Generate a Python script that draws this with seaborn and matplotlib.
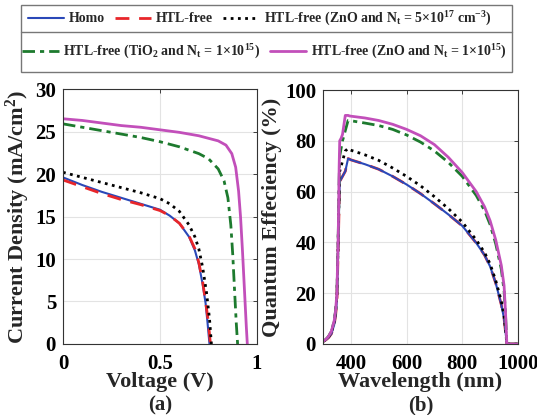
import numpy as np
import pandas as pd
import seaborn as sns
import matplotlib
matplotlib.use("Agg")
import matplotlib.pyplot as plt
from matplotlib.patches import Rectangle
from matplotlib.lines import Line2D

# ---------------- data ----------------
series_names = ["Homo", "HTL-free", "HTL-free (ZnO and N$_\\mathregular{t}$ = 5\u00d710$^{\\mathregular{17}}$ cm$^{\\mathregular{-3}}$)",
                "HTL-free (TiO$_\\mathregular{2}$ and N$_\\mathregular{t}$ = 1\u00d710$^{\\mathregular{15}}$)",
                "HTL-free (ZnO and N$_\\mathregular{t}$ = 1\u00d710$^{\\mathregular{15}}$)"]

# J-V (panel a)
V_homo = [0, 0.1, 0.2, 0.3, 0.4, 0.5, 0.55, 0.6, 0.65, 0.68, 0.7, 0.72, 0.735, 0.745, 0.755]
J_homo = [19.6, 18.7, 17.9, 17.2, 16.5, 15.8, 15.1, 14.2, 12.6, 11.0, 9.4, 7.0, 4.8, 2.5, 0]
V_htl = [0, 0.1, 0.2, 0.3, 0.4, 0.5, 0.55, 0.6, 0.65, 0.68, 0.7, 0.72, 0.735, 0.748, 0.76]
J_htl = [19.3, 18.5, 17.7, 17.0, 16.4, 15.7, 15.1, 14.2, 12.7, 11.2, 9.6, 7.3, 5.0, 2.8, 0]
V_zno17 = [0, 0.1, 0.2, 0.3, 0.4, 0.5, 0.55, 0.6, 0.65, 0.68, 0.7, 0.72, 0.74, 0.755, 0.765]
J_zno17 = [20.2, 19.6, 19.0, 18.4, 17.8, 17.1, 16.5, 15.6, 14.0, 12.6, 11.2, 9.0, 6.0, 3.0, 0]
V_tio2 = [0, 0.1, 0.2, 0.3, 0.4, 0.5, 0.6, 0.7, 0.75, 0.8, 0.83, 0.85, 0.865, 0.875, 0.885, 0.893, 0.9]
J_tio2 = [25.9, 25.5, 25.1, 24.7, 24.3, 23.8, 23.2, 22.4, 21.8, 20.6, 19.2, 17.2, 14.0, 10.5, 6.0, 2.5, 0]
V_zno15 = [0, 0.1, 0.2, 0.3, 0.4, 0.5, 0.6, 0.7, 0.75, 0.8, 0.84, 0.87, 0.89, 0.905, 0.915, 0.925, 0.935, 0.945, 0.95]
J_zno15 = [26.5, 26.3, 26.0, 25.7, 25.5, 25.2, 24.9, 24.5, 24.2, 23.9, 23.4, 22.4, 20.8, 18.0, 15.0, 11.0, 6.5, 2.0, 0]

# QE (panel b)
wl = [300, 310, 320, 330, 340, 345, 350, 355, 358, 360, 365, 370, 380, 390, 395, 400, 450, 500, 550,
      600, 650, 700, 750, 800, 850, 880, 900, 920, 940, 950, 955, 960, 1000]
qe_homo = [1, 1.6, 2.5, 4, 7.5, 11, 17, 40, 55, 64, 65, 66, 68, 73, 72.8, 72.5, 70.8, 68.8, 66,
           62.8, 59.2, 55.2, 51, 46.5, 39.8, 35, 30.5, 24, 15.5, 10, 5, 0, 0]
qe_htl = [1, 1.6, 2.5, 4, 7.5, 11, 17, 40, 55, 64, 65, 66, 68, 73, 72.8, 72.5, 70.8, 68.8, 66,
          62.8, 59.2, 55.2, 51, 46.5, 39.8, 35, 30.5, 24, 15.5, 10, 5, 0, 0]
qe_zno17 = [1, 1.7, 2.8, 4.6, 8.5, 12.5, 19, 44, 60, 68, 70, 72, 76, 77, 76.5, 76.3, 74.5, 72.3, 69.3,
            66, 62.3, 58, 53.3, 48, 41, 36, 31.5, 25, 17, 11, 6, 0, 0]
qe_tio2 = [1, 1.8, 3, 5, 9, 13, 20, 45, 65, 74, 77, 80, 84, 88, 88, 87.9, 87, 86, 84.5,
           82.3, 79.5, 76, 71.5, 66, 58.5, 52.5, 47, 39.5, 29.5, 21, 12, 0, 0]
qe_zno15 = [1, 1.8, 3, 5, 9, 13, 20, 45, 70, 80, 81, 82.5, 90, 90, 89.8, 89.7, 89, 88, 86.5,
            84.5, 82, 78.5, 73.5, 67.5, 60, 54, 48.5, 41, 31, 23, 13, 0, 0]

colors = ["#2a48b8", "#e8262a", "#000000", "#1d7a2e", "#c24fba"]
styles = ["-", (0, (5, 3.5)), (0, (1, 1.6)), (0, (4.5, 1.8, 1.5, 1.8)), "-"]
widths = [1.5, 2.0, 2.0, 2.0, 2.0]

# ---------------- style ----------------
sns.set_theme(style="white")
plt.rcParams["font.family"] = ["Liberation Serif", "DejaVu Serif"]
plt.rcParams["font.weight"] = "bold"
plt.rcParams["axes.labelweight"] = "bold"
plt.rcParams["mathtext.fontset"] = "custom"
plt.rcParams["mathtext.rm"] = "Liberation Serif:bold"
plt.rcParams["mathtext.it"] = "Liberation Serif:bold"
plt.rcParams["mathtext.bf"] = "Liberation Serif:bold"

fig = plt.figure(figsize=(5.37, 4.15), dpi=100)
ax1 = fig.add_axes([0.1173, 0.1711, 0.3613, 0.6144])
ax2 = fig.add_axes([0.6015, 0.1711, 0.3631, 0.6120])

jv = [(V_homo, J_homo), (V_htl, J_htl), (V_zno17, J_zno17), (V_tio2, J_tio2), (V_zno15, J_zno15)]
for i in [0, 1, 2, 3, 4]:
    x, y = jv[i]
    sns.lineplot(x=x, y=y, ax=ax1, color=colors[i], linestyle=styles[i], lw=widths[i],
                 sort=False, estimator=None)

qe = [qe_homo, qe_htl, qe_zno17, qe_tio2, qe_zno15]
for i in [1, 0, 2, 3, 4]:
    sns.lineplot(x=wl, y=qe[i], ax=ax2, color=colors[i], linestyle=styles[i], lw=widths[i],
                 sort=False, estimator=None)

tick_fs = 15
for ax in (ax1, ax2):
    ax.grid(True, color="#e3e3e3", lw=0.8)
    ax.set_axisbelow(True)
    for s in ax.spines.values():
        s.set_color("#333333")
        s.set_linewidth(0.8)
    ax.tick_params(direction="in", length=3, width=0.6, labelsize=tick_fs, top=True, right=True,
                   colors="#222222", labelcolor="black")
    ax.tick_params(axis="x", pad=7)
    ax.tick_params(axis="y", pad=5)

ax1.set_xlim(0, 1)
ax1.set_ylim(0, 30)
ax1.set_xticks([0, 0.5, 1])
ax1.set_xticklabels(["0", "0.5", "1"], fontweight="bold")
ax1.set_yticks([0, 5, 10, 15, 20, 25, 30])
ax1.set_yticklabels(["0", "5", "10", "15", "20", "25", "30"], fontweight="bold")
ax1.set_xlabel("Voltage (V)", fontsize=16, fontweight="bold", labelpad=-1)
ax1.set_ylabel("Current Density (mA/cm$^{\\mathregular{2}}$)", fontsize=16, fontweight="bold", labelpad=2)

ax2.set_xlim(300, 1000)
ax2.set_ylim(0, 100)
ax2.set_xticks([400, 600, 800, 1000])
ax2.set_xticklabels(["400", "600", "800", "1000"], fontweight="bold")
ax2.set_yticks([0, 20, 40, 60, 80, 100])
ax2.set_yticklabels(["0", "20", "40", "60", "80", "100"], fontweight="bold")
ax2.set_xlabel("Wavelength (nm)", fontsize=16, fontweight="bold", labelpad=-1)
ax2.set_ylabel("Quantum Effeciency (%)", fontsize=16, fontweight="bold", labelpad=2)

W, H = 537.0, 415.0
fig.text((63 + 257) / 2 / W, 1 - 405 / H, "(a)", ha="center", va="center", fontsize=15, fontweight="bold")
fig.text((323 + 518) / 2 / W, 1 - 405 / H, "(b)", ha="center", va="center", fontsize=15, fontweight="bold")

# ---------------- legend ----------------
box_l, box_r, box_t, box_m, box_b = 21, 512, 5, 32, 72
fig.patches.append(Rectangle((box_l / W, 1 - box_b / H), (box_r - box_l) / W, (box_b - box_t) / H,
                             transform=fig.transFigure, fill=True, facecolor="white",
                             edgecolor="#777777", lw=1.0, zorder=0))
fig.add_artist(Line2D([box_l / W, box_r / W], [1 - box_m / H, 1 - box_m / H],
                      transform=fig.transFigure, color="#777777", lw=1.0))

handles = [Line2D([], [], color=colors[i], linestyle=styles[i], lw=widths[i]) for i in range(5)]
legprop = {"family": "Liberation Serif", "weight": "bold", "size": 10}
leg1 = fig.legend(handles[:3], series_names[:3], loc="center left",
                  bbox_to_anchor=(box_l / W, 1 - (box_t + box_m) / 2 / H), ncol=3, frameon=False,
                  prop=legprop, handlelength=2.6, handletextpad=0.35, columnspacing=0.7,
                  borderpad=0, borderaxespad=0.5)
leg2 = fig.legend(handles[3:], series_names[3:], loc="center left",
                  bbox_to_anchor=(box_l / W, 1 - (box_m + box_b) / 2 / H), ncol=2, frameon=False,
                  prop=legprop, handlelength=2.6, handletextpad=0.35, columnspacing=0.7,
                  borderpad=0, borderaxespad=0.1)

fig.savefig("out.png", dpi=100)
